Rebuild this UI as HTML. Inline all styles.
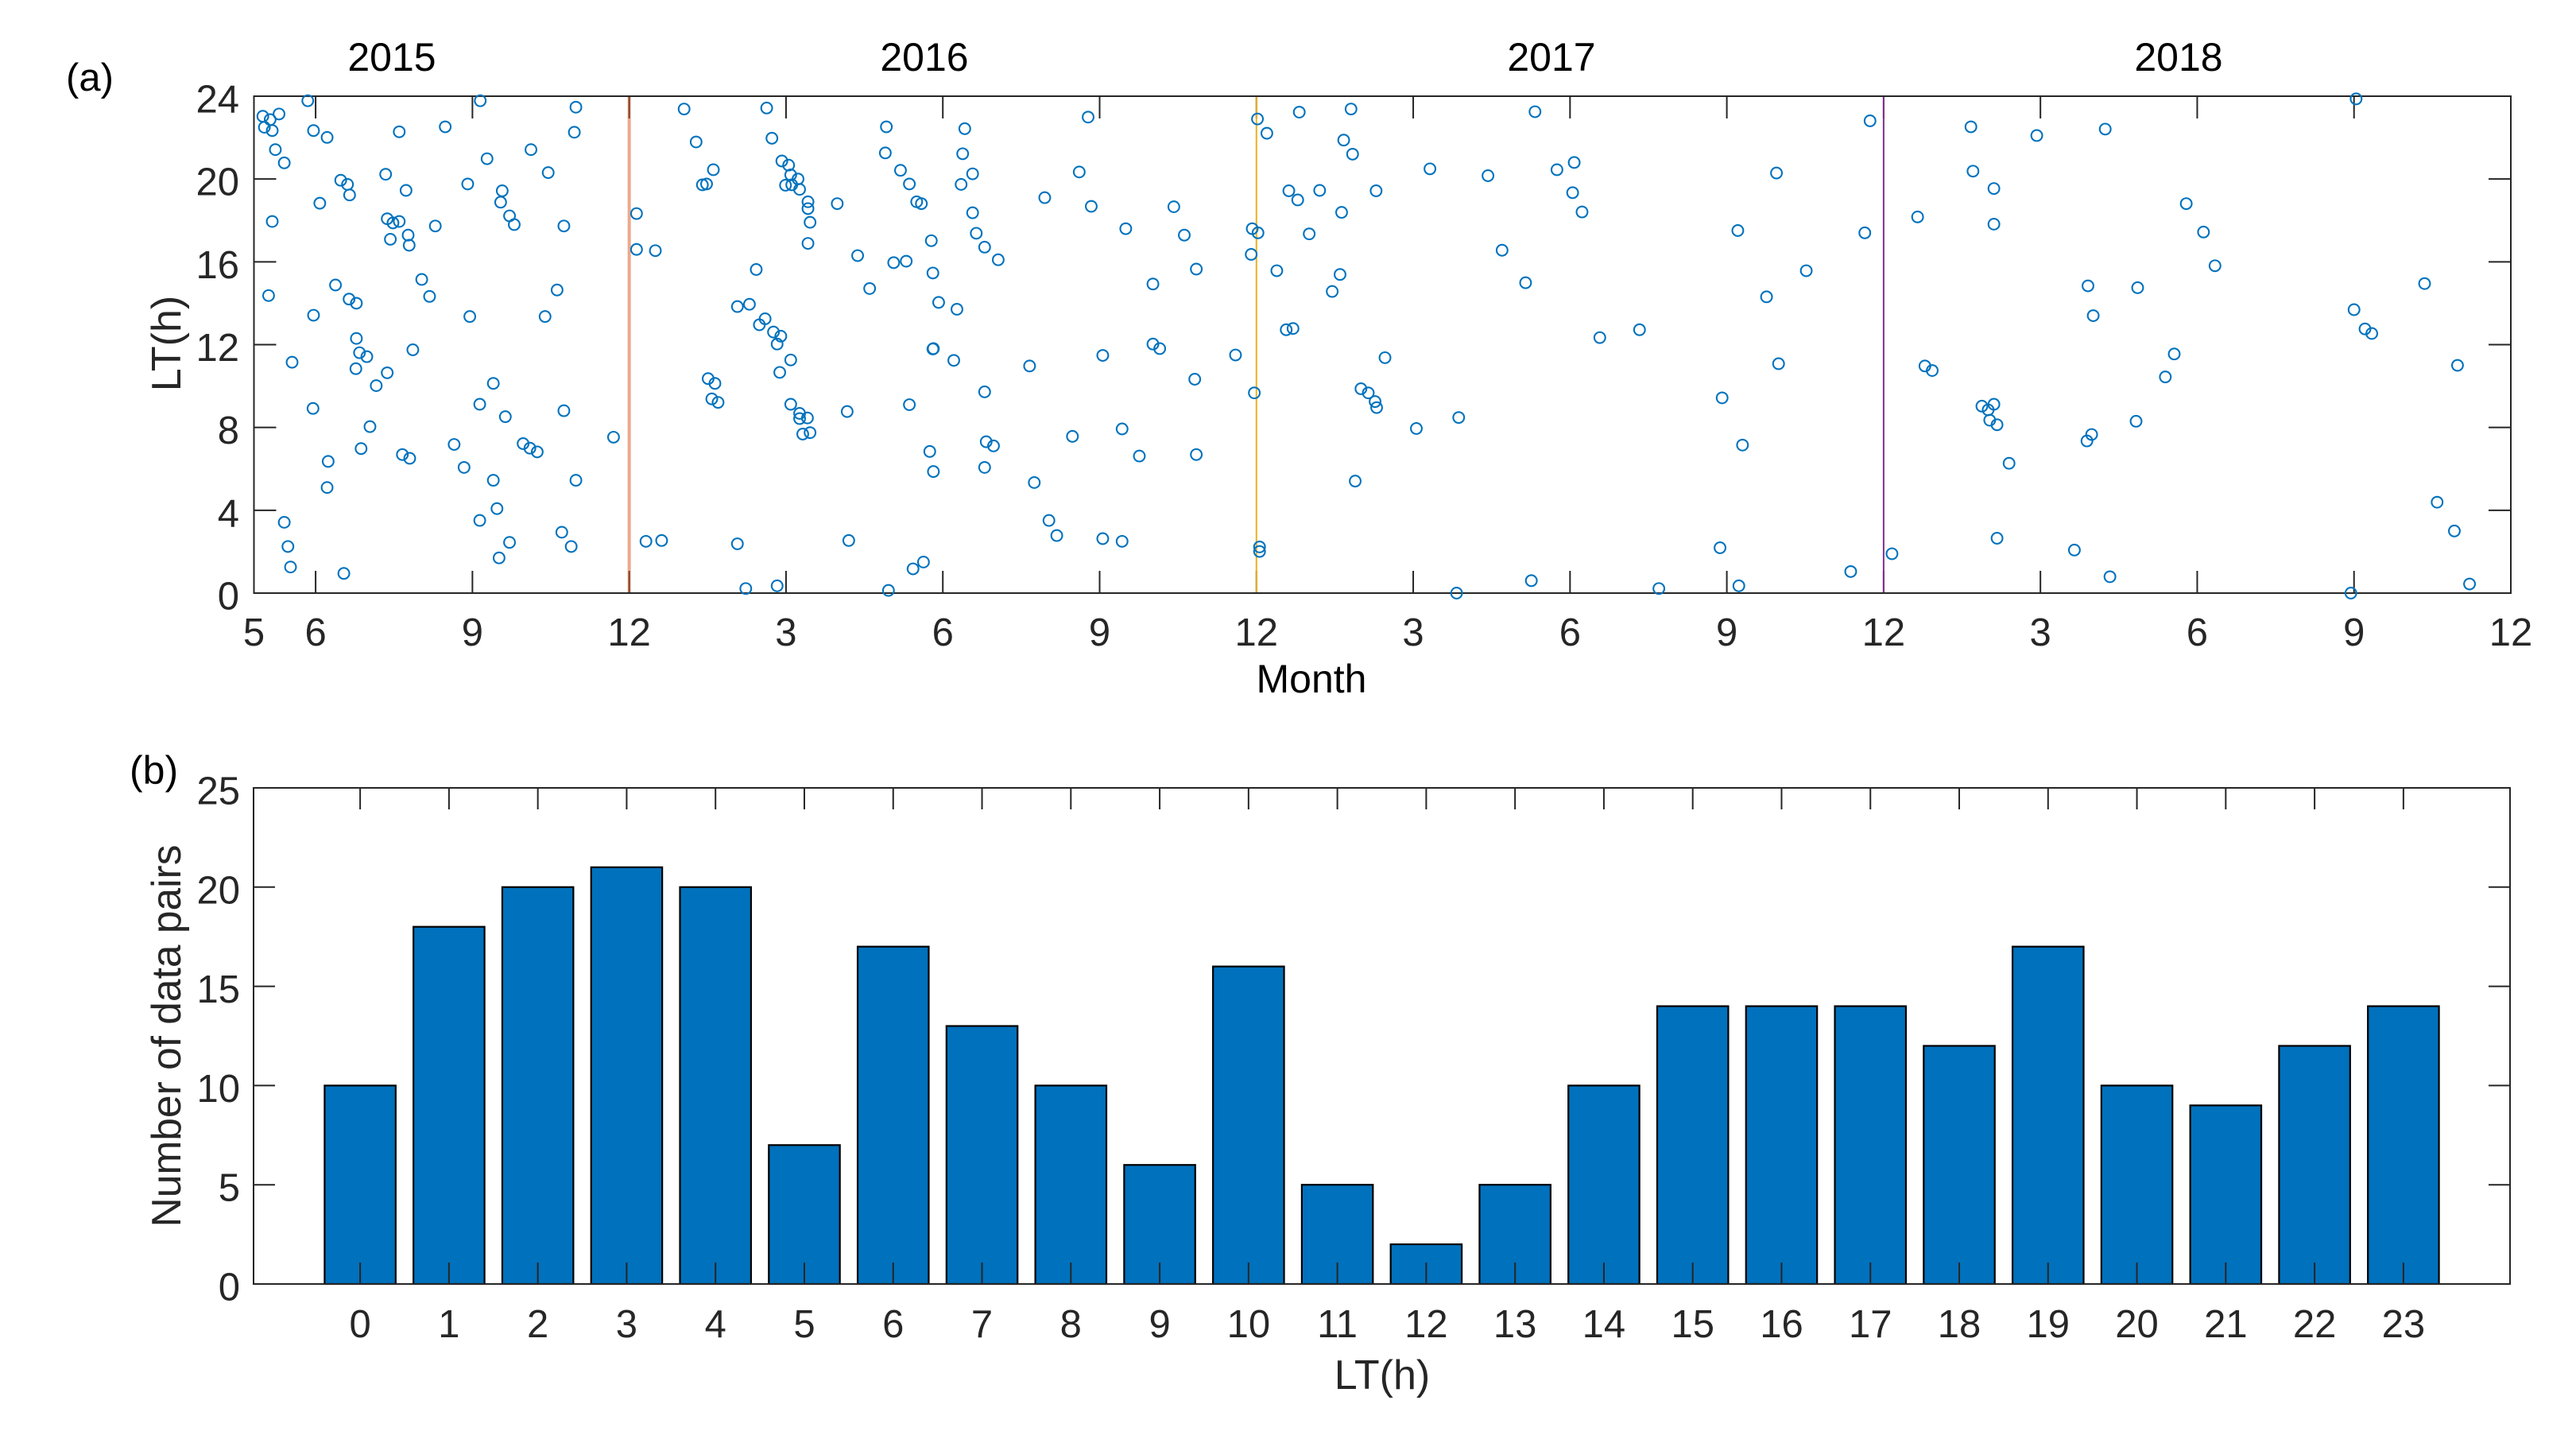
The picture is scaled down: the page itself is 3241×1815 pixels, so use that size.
<!DOCTYPE html>
<html lang="en">
<head>
<meta charset="utf-8">
<title>LT(h) occurrence by month and histogram</title>
<style>
  html, body { margin: 0; padding: 0; background: #fff; }
  svg { display: block; }
  text { font-family: "Liberation Sans", Arial, sans-serif; }
  .lbl { font-size: 49px; fill: #262626; }
  .ttl { font-size: 50px; fill: #000; }
</style>
</head>
<body>
<svg id="figure" xmlns="http://www.w3.org/2000/svg" width="3241" height="1815" viewBox="0 0 3241 1815">
  <rect x="0" y="0" width="3241" height="1815" fill="#fff"/>
  <g id="panel-a"></g>
  <g id="panel-b"></g>

  <text class="ttl" x="83" y="114" style="font-size:49px">(a)</text>
  <text class="ttl" x="493" y="89" text-anchor="middle">2015</text>
  <text class="ttl" x="1163" y="89" text-anchor="middle">2016</text>
  <text class="ttl" x="1952" y="89" text-anchor="middle">2017</text>
  <text class="ttl" x="2741" y="89" text-anchor="middle">2018</text>
  <text class="ttl" x="1650" y="871" text-anchor="middle">Month</text>
  <text class="lbl" style="font-size:52px" transform="translate(227,432) rotate(-90)" text-anchor="middle">LT(h)</text>

  <text class="ttl" x="163" y="986">(b)</text>
  <text class="lbl" style="font-size:52px" x="1739" y="1747" text-anchor="middle">LT(h)</text>
  <text class="lbl" style="font-size:51.5px" transform="translate(227,1303) rotate(-90)" text-anchor="middle">Number of data pairs</text>
</svg>

<script>
// ---- Panel (a): months are counted from June 2015 = 0 ----
const monthTicks = [-1.18, 0, 3, 6, 9, 12, 15, 18, 21, 24, 27, 30, 33, 36, 39, 42];
const monthTickLabels = ['5', '6', '9', '12', '3', '6', '9', '12', '3', '6', '9', '12', '3', '6', '9', '12'];
const ltTicks = [0, 4, 8, 12, 16, 20, 24];
const yearBoundaries = [6, 18, 30];
const yearBoundaryColors = ['rgba(217,83,25,0.5)', '#EDB120', '#7E2F8E'];

const eventMonths = [
 -1.01,-0.87,-0.70,-0.98,-0.83,-0.15,-0.04,0.22,-0.77,-0.60,0.48,0.61,0.65,0.08,-0.83,1.34,1.73,1.37,1.48,1.60,
 1.77,1.43,1.79,2.29,1.60,2.48,3.15,2.91,3.28,4.12,4.45,4.95,4.98,3.57,3.54,3.71,3.80,4.75,0.38,0.64,
 0.78,-0.90,-0.04,2.03,2.18,2.95,4.39,4.62,0.78,0.84,0.98,1.86,-0.45,0.77,1.37,1.16,3.40,3.14,3.63,4.75,
 -0.05,1.04,0.87,1.66,1.80,2.65,3.97,4.10,4.24,5.70,0.24,0.22,2.84,3.40,4.98,-0.60,3.14,3.47,-0.53,-0.48,
 0.54,4.71,4.89,3.71,3.51,6.14,6.14,6.50,7.05,7.28,7.61,7.40,7.48,8.63,8.73,8.92,9.05,9.09,8.99,9.11,
 8.43,8.07,8.30,8.60,8.49,8.76,8.90,8.83,9.09,8.88,7.51,7.64,7.58,7.70,9.09,6.32,6.62,8.07,8.23,8.83,
 9.23,9.26,9.42,9.42,9.46,9.42,9.98,10.37,10.60,10.92,10.90,11.19,11.36,11.50,11.59,11.78,11.06,11.30,11.81,11.92,
 12.27,12.42,12.38,12.57,12.35,12.57,12.64,12.80,13.06,11.81,11.82,12.21,11.36,12.80,12.83,12.97,11.75,11.82,12.80,13.66,
 13.75,14.48,14.03,14.18,14.78,14.61,13.95,14.84,15.50,16.42,16.62,16.85,16.02,16.02,16.15,15.06,16.82,17.60,17.96,15.43,
 15.76,16.85,15.06,15.43,18.06,18.06,10.20,10.17,11.63,11.43,10.96,9.26,9.26,9.41,9.32,9.46,18.02,18.20,18.82,19.81,
 19.67,19.84,17.92,18.03,17.90,18.62,18.79,19.21,19.63,20.29,19.01,18.39,19.60,19.45,18.57,18.70,20.46,20.00,20.14,20.27,
 20.30,19.89,21.06,21.87,21.32,22.43,23.75,24.08,24.05,24.23,22.70,23.15,23.33,23.26,21.83,24.57,25.33,25.70,26.87,27.23,
 26.91,27.30,27.21,27.95,27.76,28.52,27.99,29.37,29.64,29.74,30.16,30.65,30.79,30.93,31.67,31.71,32.11,32.11,32.93,34.24,
 31.88,32.11,32.00,32.03,32.17,32.40,32.17,33.65,34.33,33.89,33.98,34.83,33.91,34.01,34.86,35.56,35.39,35.79,36.12,36.34,
 39.04,39.00,39.21,39.34,40.35,40.98,40.59,40.92,41.21,38.94
];
const eventHours = [
 23.03,22.87,23.14,22.50,22.34,23.78,22.34,22.01,21.42,20.78,19.94,19.74,19.23,18.83,17.95,20.23,19.45,18.08,17.88,17.95,
 17.29,17.09,16.80,17.73,22.28,22.52,23.78,19.76,20.98,21.42,20.31,22.26,23.47,19.43,18.88,18.22,17.80,17.73,14.88,14.20,
 14.00,14.37,13.42,15.15,14.33,13.36,13.36,14.64,12.30,11.61,11.42,11.75,11.15,10.84,10.64,10.02,10.13,9.12,8.52,8.81,
 8.92,8.04,6.98,6.69,6.51,7.18,7.22,7.00,6.82,7.53,6.36,5.10,6.07,5.45,5.45,3.42,3.51,4.08,2.25,1.26,
 0.95,2.94,2.25,2.45,1.70,18.33,16.60,16.54,23.38,21.79,20.45,19.72,19.76,23.43,21.97,20.87,20.67,20.20,19.70,19.72,
 15.63,13.84,13.95,13.25,12.96,12.61,12.41,12.03,11.26,10.66,10.36,10.13,9.38,9.21,9.12,2.50,2.54,2.38,0.22,0.35,
 20.00,19.50,18.90,18.57,17.91,16.89,18.81,16.30,14.71,22.52,21.26,20.42,19.76,18.90,18.81,17.02,15.96,16.03,15.46,14.04,
 13.71,22.43,21.22,20.25,19.74,18.37,17.38,16.71,16.10,11.79,11.81,11.24,9.10,9.72,7.31,7.11,6.84,5.87,6.07,10.97,
 5.34,7.57,3.51,2.78,22.99,20.34,19.10,18.68,17.60,18.66,17.29,15.65,14.93,12.03,11.81,11.48,10.33,11.50,9.67,7.93,
 6.62,6.69,2.63,2.50,2.23,2.01,2.54,8.77,1.50,1.17,0.13,8.68,8.43,8.46,7.68,7.75,22.90,22.21,23.23,23.38,
 21.88,21.20,17.60,17.40,16.36,19.43,18.99,19.45,18.39,19.43,17.35,15.57,15.39,14.57,12.72,12.78,11.37,9.87,9.67,9.25,
 8.96,5.41,7.95,8.48,20.49,20.16,20.45,20.80,19.34,18.41,16.56,14.99,23.25,0.60,0.00,12.34,12.72,0.22,2.19,0.35,
 9.43,7.15,17.51,20.29,14.31,15.57,11.08,1.04,17.40,22.81,1.90,18.17,10.97,10.75,22.52,20.38,19.54,17.82,22.10,22.41,
 9.03,9.12,8.85,8.35,8.13,6.27,2.65,2.08,0.79,7.35,7.66,8.30,14.84,13.40,14.75,11.55,10.44,18.81,17.44,15.81,
 23.87,13.69,12.76,12.54,14.95,11.00,4.39,3.00,0.44,0.00
];

// ---- Panel (b) ----
const hourCategories = [0,1,2,3,4,5,6,7,8,9,10,11,12,13,14,15,16,17,18,19,20,21,22,23];
const pairCounts = [10,18,20,21,20,7,17,13,10,6,16,5,2,5,10,14,14,14,12,17,10,9,12,14];
const countTicks = [0,5,10,15,20,25];

// ---- Axis functions ----
const A = { left: 319.5, right: 3159, top: 121, bottom: 746, monthMin: -1.18, monthMax: 42, ltMax: 24 };
const B = { left: 319, right: 3158, top: 991, bottom: 1615, hourMin: -1.2, hourMax: 24.2, countMax: 25 };
const xMonth = m => A.left + (m - A.monthMin) * (A.right - A.left) / (A.monthMax - A.monthMin);
const yHour  = h => A.bottom - h * (A.bottom - A.top) / A.ltMax;
const xCat   = c => B.left + (c - B.hourMin) * (B.right - B.left) / (B.hourMax - B.hourMin);
const yCount = v => B.bottom - v * (B.bottom - B.top) / B.countMax;

const NS = 'http://www.w3.org/2000/svg';
function mk(parent, tag, props, txt) {
  const el = document.createElementNS(NS, tag);
  for (const k in props) el.setAttribute(k, props[k]);
  if (txt !== undefined) el.textContent = txt;
  parent.appendChild(el);
  return el;
}
const AXIS = '#262626';
const pa = document.getElementById('panel-a');
const pb = document.getElementById('panel-b');

// Panel (a): ticks
monthTicks.forEach((m, i) => {
  if (i > 0 && i < monthTicks.length - 1) {
    const t1 = mk(pa, 'line', { x1: xMonth(m), x2: xMonth(m), y1: A.bottom, y2: A.bottom - 28, stroke: AXIS, 'stroke-width': 2 });
    
    
    const t2 = mk(pa, 'line', { x1: xMonth(m), x2: xMonth(m), y1: A.top, y2: A.top + 28, stroke: AXIS, 'stroke-width': 2 });
    
    
  }
  const lab = mk(pa, 'text', { x: xMonth(m), y: 812, 'text-anchor': 'middle', class: 'lbl' }, monthTickLabels[i]);
  
  
});
ltTicks.forEach(h => {
  if (h > 0 && h < A.ltMax) {
    const t1 = mk(pa, 'line', { x1: A.left, x2: A.left + 28, y1: yHour(h), y2: yHour(h), stroke: AXIS, 'stroke-width': 2 });
    
    
    const t2 = mk(pa, 'line', { x1: A.right, x2: A.right - 28, y1: yHour(h), y2: yHour(h), stroke: AXIS, 'stroke-width': 2 });
    
    
  }
  const lab = mk(pa, 'text', { x: 301, y: yHour(h) + 20.5, 'text-anchor': 'end', class: 'lbl' }, String(h));
  
  
});

// Panel (a): year boundary lines, drawn over the ticks
yearBoundaries.forEach((m, i) => {
  const el = mk(pa, 'line', { x1: xMonth(m), x2: xMonth(m), y1: A.top, y2: A.bottom, stroke: yearBoundaryColors[i], 'stroke-width': i === 0 ? 4 : 2 });
  
  
});

const frameA = mk(pa, 'rect', { x: A.left, y: A.top, width: A.right - A.left, height: A.bottom - A.top, fill: 'none', stroke: AXIS, 'stroke-width': 2 });



// Panel (a): scatter points
eventMonths.forEach((m, i) => {
  const c = mk(pa, 'circle', { cx: xMonth(m), cy: yHour(eventHours[i]), r: 6.9, fill: 'none', stroke: '#0072BD', 'stroke-width': 2.1 });
  
  
});

// Panel (b): bars
const barW = 0.8;
hourCategories.forEach((c, i) => {
  const v = pairCounts[i];
  const left = xCat(c - barW / 2);
  const b = mk(pb, 'rect', { x: left, y: yCount(v), width: xCat(c + barW / 2) - left, height: yCount(0) - yCount(v), fill: '#0071BC', stroke: '#000', 'stroke-width': 2.2 });
  
  
});

// Panel (b): ticks and frame
hourCategories.forEach(c => {
  const t1 = mk(pb, 'line', { x1: xCat(c), x2: xCat(c), y1: B.bottom, y2: B.bottom - 27, stroke: AXIS, 'stroke-width': 2 });
  
  
  const t2 = mk(pb, 'line', { x1: xCat(c), x2: xCat(c), y1: B.top, y2: B.top + 27, stroke: AXIS, 'stroke-width': 2 });
  
  
  const lab = mk(pb, 'text', { x: xCat(c), y: 1682, 'text-anchor': 'middle', class: 'lbl' }, String(c));
  
  
});
countTicks.forEach(v => {
  if (v > 0 && v < B.countMax) {
    const t1 = mk(pb, 'line', { x1: B.left, x2: B.left + 27, y1: yCount(v), y2: yCount(v), stroke: AXIS, 'stroke-width': 2 });
    
    
    const t2 = mk(pb, 'line', { x1: B.right, x2: B.right - 27, y1: yCount(v), y2: yCount(v), stroke: AXIS, 'stroke-width': 2 });
    
    
  }
  const lab = mk(pb, 'text', { x: 302, y: yCount(v) + 20.5, 'text-anchor': 'end', class: 'lbl' }, String(v));
  
  
});
const frameB = mk(pb, 'rect', { x: B.left, y: B.top, width: B.right - B.left, height: B.bottom - B.top, fill: 'none', stroke: AXIS, 'stroke-width': 2 });


</script>
</body>
</html>
